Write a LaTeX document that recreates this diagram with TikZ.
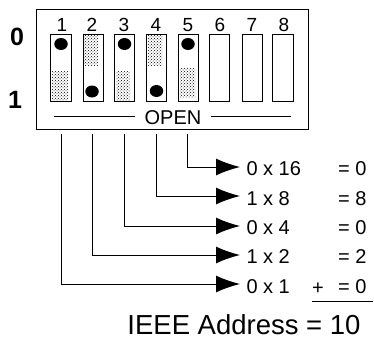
\documentclass[tikz,border=0pt]{standalone}
\usepackage{fontspec}
\setmainfont{Liberation Sans}
\usetikzlibrary{patterns,arrows.meta,shapes.geometric}
\begin{document}
\begin{tikzpicture}[
       x=1pt,y=-1pt,
       line width=1pt,
       slot/.style={
         draw,
         minimum width=20.5pt,
         minimum height=67pt,
         inner sep=0pt
       },
       knob/.style={
         ellipse,
         fill=black,
         inner sep=0pt,
         minimum width=13.5pt,
         minimum height=12pt
       },
       shade/.style={
         pattern=crosshatch dots
       },
       num/.style={
         inner sep=0pt,
         font=\fontsize{20}{20}\selectfont
       },
       wire/.style={
         shorten >=6pt,
         -{Latex[length=24pt,width=17pt]}
       }
     ]
       \useasboundingbox (0,0) rectangle (374,340);

       \node (board) at (172,69.5) [draw,minimum width=272pt,minimum height=119.5pt,inner sep=0pt]{};

       \node (zero) at (17,37) [num,font=\fontsize{25}{25}\selectfont\bfseries]{0};
       \node (one) at (15,100) [num,font=\fontsize{25}{25}\selectfont\bfseries]{1};

       \foreach \n/\x in {1/61,2/93.5,3/124.5,4/156.5,5/188.5,6/219.5,7/252.5,8/283}{
         \node (s\n) at (\x,67.5) [slot]{};
       }
       \foreach \n/\x in {1/62,2/92,3/124,4/156,5/188,6/220,7/252,8/284}{
         \node (t\n) at (\x,25) [num,font=\fontsize{19}{19}\selectfont]{\n};
       }

       \fill[shade] (52,71) rectangle (68,100);
       \fill[shade] (84,35) rectangle (98,65);
       \fill[shade] (116,71) rectangle (130,100);
       \fill[shade] (148,35) rectangle (162,65);
       \fill[shade] (180,68) rectangle (195,97);

       \node (k1) at (61,44) [knob]{};
       \node (k2) at (92,91.5) [knob]{};
       \node (k3) at (124.5,44) [knob]{};
       \node (k4) at (156.5,91) [knob]{};
       \node (k5) at (188,44) [knob]{};

       \node (open) at (173,118) [num,inner xsep=9pt]{OPEN};
       \coordinate (ol) at (54,116);
       \coordinate (or) at (291,116);
       \draw (ol) -- (ol -| open.west);
       \draw (or -| open.east) -- (or);

       \coordinate (p1) at (61,134);
       \coordinate (p2) at (92,134);
       \coordinate (p3) at (124,134);
       \coordinate (p4) at (156.5,134);
       \coordinate (p5) at (187,134);

       \node (v5) at (246,169) [num,anchor=west]{0 x 16};
       \node (v4) at (246,199) [num,anchor=west]{1 x 8};
       \node (v3) at (246,228) [num,anchor=west]{0 x 4};
       \node (v2) at (246,257) [num,anchor=west]{1 x 2};
       \node (v1) at (246,287) [num,anchor=west]{0 x 1};

       \draw[wire] (p5) |- ([yshift=2pt]v5.west);
       \draw[wire] (p4) |- ([yshift=3pt]v4.west);
       \draw[wire] (p3) |- ([yshift=2pt]v3.west);
       \draw[wire] (p2) |- ([yshift=2pt]v2.west);
       \draw[wire] (p1) |- ([yshift=3pt]v1.west);

       \node (r5) at (367,169) [num,anchor=east]{= 0};
       \node (r4) at (367,199) [num,anchor=east]{= 8};
       \node (r3) at (367,228) [num,anchor=east]{= 0};
       \node (r2) at (367,257) [num,anchor=east]{= 2};
       \node (r1) at (367,287) [num,anchor=east]{= 0};
       \node (plus) at (318,289) [num]{+};

       \coordinate (sl) at (312,301);
       \coordinate (sr) at (373,301);
       \draw (sl) -- (sr);

       \node (addr) at (244,325) [num,font=\fontsize{27.5}{27.5}\selectfont]{IEEE Address = 10};
\end{tikzpicture}
\end{document}
